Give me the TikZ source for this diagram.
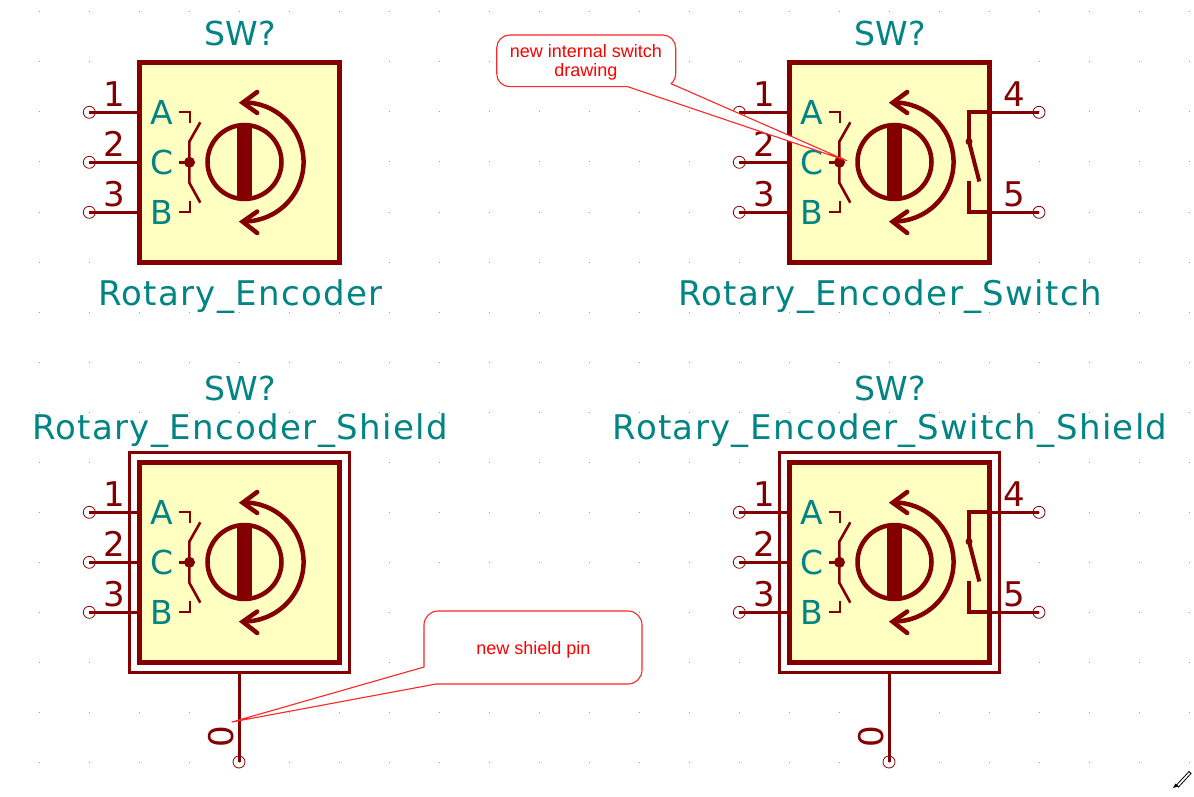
\documentclass[tikz,border=0pt]{standalone}
\usepackage{fontspec}
\setmainfont{DejaVu Sans}
\newfontfamily\valuefont{DejaVu Sans}[LetterSpace=4]
\newfontfamily\calloutfont{Liberation Sans}
\definecolor{symred}{HTML}{840000}
\definecolor{symteal}{HTML}{008484}
\definecolor{symyellow}{HTML}{FFFFC2}
\definecolor{griddot}{HTML}{9A9A9A}
\tikzset{
  wire/.style={draw=symred,line width=3pt},
  thinw/.style={draw=symred,line width=2.6pt},
  bodybox/.style={draw=symred,fill=symyellow,line width=5pt},
  shieldbox/.style={draw=symred,line width=3pt,fill=white},
  pinend/.style={draw=symred,line width=0.8pt,circle,minimum size=12pt,inner sep=0pt},
  pinnum/.style={text=symred,font=\fontsize{34}{34}\selectfont,anchor=base,inner sep=0pt},
  pinname/.style={text=symteal,font=\fontsize{33}{33}\selectfont,anchor=base,inner sep=0pt},
  title/.style={text=symteal,font=\fontsize{33}{33}\selectfont,anchor=base,inner sep=0pt},
  valuetext/.style={text=symteal,font=\valuefont\fontsize{34}{34}\selectfont,anchor=base,inner sep=0pt},
  callout/.style={draw=red!85!white,fill=white,line width=1.1pt,line join=round},
  callouttext/.style={text=red,font=\calloutfont\fontsize{18}{19}\selectfont,align=center,inner sep=0pt},
  pics/encoder/.style={code={
    \path[bodybox] (-99.5,-99.5) rectangle (100.5,100.5);
    \foreach \yy/\nn in {-49.7/1,0.3/2,50.3/3}{
      \draw[wire] (-150,\yy) -- (-100,\yy);
      \node[pinend] at (-149.7,\yy) {};
      \node[pinnum] at (-125,\yy-5.5) {\nn};
    }
    \node[pinname] at (-77,-37.5) {A};
    \node[pinname] at (-77,12.5) {C};
    \node[pinname] at (-77,62.5) {B};
    \draw[thinw,line join=miter] (-60,-50) -- (-49,-50) -- (-49,-39);
    \draw[thinw,line join=miter] (-60,50) -- (-49,50) -- (-49,39);
    \draw[thinw] (-38.7,-39.7) -- (-49.7,-20.3) -- (-49.7,20.7) -- (-38.7,40.7);
    \draw[thinw] (-60,0.3) -- (-49.5,0.3);
    \fill[symred] (-49.5,0.3) circle (5.5);
    \draw[symred,line width=4.5pt] (5.5,0) circle (37);
    \fill[symred] (-2,-38) rectangle (13,38);
    \draw[symred,line width=4.5pt] (3.5,-59.5) arc[start angle=-91.5,end angle=91.5,radius=59.5];
    \draw[symred,line width=4.5pt,line cap=round,line join=miter] (18.2,-70) -- (3.7,-59.3) -- (18.2,-49);
    \draw[symred,line width=4.5pt,line cap=round,line join=miter] (18.2,49.5) -- (3.7,59.7) -- (18.2,71);
  }},
  pics/swpart/.style={code={
    \foreach \yy/\nn in {-49.7/4,50.3/5}{
      \draw[wire] (100,\yy) -- (150,\yy);
      \node[pinend] at (150,\yy) {};
      \node[pinnum] at (125,\yy-5.5) {\nn};
    }
    \draw[symred,line width=4pt,line join=miter] (100,-49.7) -- (80,-49.7) -- (80,-20.5);
    \fill[symred] (80,-20.5) circle (3.5);
    \draw[symred,line width=4pt] (80,-20.5) -- (90.3,19.5);
    \draw[symred,line width=4pt,line join=miter] (80,18.5) -- (80,50.3) -- (100,50.3);
  }},
  pics/shieldpin/.style={code={
    \path[shieldbox] (-110,-110) rectangle (110,110);
    \draw[wire] (0,110) -- (0,200);
    \node[pinend] at (0,200) {};
    \node[pinnum,rotate=90] at (-5.5,175) {0};
  }},
}
\begin{document}
\begin{tikzpicture}[x=1pt,y=-1pt]
\useasboundingbox (0,0) rectangle (1194,797);
\fill[white] (0,0) rectangle (1194,797);
\foreach \gx in {39,89,...,1189}{\foreach \gy in {12,62,...,762}{\fill[griddot] (\gx-0.5,\gy-0.5) rectangle +(1,1);}}

\pic at (239,162) {encoder};
\node[title] (t1) at (240,45.5) {SW?};
\node[valuetext] (v1) at (240.5,305) {Rotary\_Encoder};

\pic at (889,162) {encoder};
\pic at (889,162) {swpart};
\node[title] (t2) at (890,45.5) {SW?};
\node[valuetext] (v2) at (890,305) {Rotary\_Encoder\_Switch};

\pic at (239,562) {shieldpin};
\pic at (239,562) {encoder};
\node[title] (t3) at (240,400) {SW?};
\node[valuetext] (v3) at (240,439) {Rotary\_Encoder\_Shield};

\pic at (889,562) {shieldpin};
\pic at (889,562) {encoder};
\pic at (889,562) {swpart};
\node[title] (t4) at (890,400) {SW?};
\node[valuetext] (v4) at (890,439) {Rotary\_Encoder\_Switch\_Shield};

% callouts
\path[callout] (509.7,35) -- (662.7,35) arc[start angle=-90,end angle=0,radius=13] -- (675.7,73.7)
  arc[start angle=0,end angle=50,radius=13] -- (846.7,160.7) -- (627.7,86.7) -- (509.7,86.7)
  arc[start angle=90,end angle=180,radius=13] -- (496.7,48) arc[start angle=180,end angle=270,radius=13] -- cycle;
\node[callouttext] (c1) at (586,62) {new internal switch\\drawing};

\path[callout] (438,611) -- (628,611) arc[start angle=-90,end angle=0,radius=14] -- (642,670)
  arc[start angle=0,end angle=90,radius=14] -- (436,684) -- (232,722) -- (424,667) -- (424,625)
  arc[start angle=180,end angle=270,radius=14] -- cycle;
\node[callouttext] (c2) at (533.5,649.5) {new shield pin};

% pencil cursor
\draw[black,line width=0.8pt,fill=white] (1176.5,785) -- (1189,771.5) -- (1191,773.5) -- (1178.5,787) -- cycle;
\fill[black] (1173,788) -- (1175.5,783.5) -- (1178,786.5) -- cycle;
\end{tikzpicture}
\end{document}
